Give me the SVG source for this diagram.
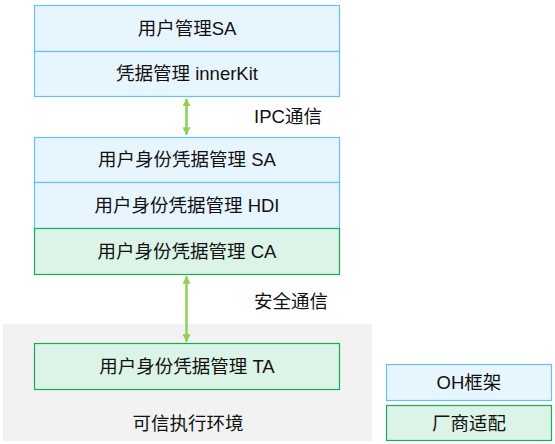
<svg xmlns="http://www.w3.org/2000/svg" width="555" height="444" viewBox="0 0 555 444">
<style>
text{font-family:"Liberation Sans","Noto Sans CJK SC",sans-serif;font-size:18.5px;fill:#111;text-anchor:middle}
.oh{fill:#e7f5fe;stroke:#66bfff;stroke-width:1.2}
.vd{fill:#dcf3e8;stroke:#1aaa55;stroke-width:1.2}
.ar{stroke:#92d050;stroke-width:2.5;fill:none}
</style>
<defs>
<marker id="ah" viewBox="0 0 10 10" refX="9" refY="5" markerWidth="3.2" markerHeight="3.2" orient="auto-start-reverse" markerUnits="strokeWidth">
<path d="M0,0 L10,5 L0,10 z" fill="#92d050"/>
</marker>
</defs>
<rect id="tee" x="3" y="324" width="369" height="117" fill="#f2f2f2"/>
<g id="user-sa">
<rect class="oh" x="34.5" y="5.5" width="305" height="46"/>
<text x="187" y="34.5">用户管理SA</text>
</g>
<g id="innerkit">
<rect class="oh" x="34.5" y="51.5" width="305" height="45"/>
<text x="187" y="80">凭据管理 innerKit</text>
</g>
<g id="cred-sa">
<rect class="oh" x="34.5" y="137.5" width="305" height="45"/>
<text x="187" y="166">用户身份凭据管理 SA</text>
</g>
<g id="cred-hdi">
<rect class="oh" x="34.5" y="182.5" width="305" height="46"/>
<text x="187" y="211.5">用户身份凭据管理 HDI</text>
</g>
<g id="cred-ca">
<rect class="vd" x="34.5" y="228.5" width="305" height="46"/>
<text x="187" y="257.5">用户身份凭据管理 CA</text>
</g>
<g id="cred-ta">
<rect class="vd" x="34.5" y="343.5" width="305" height="46"/>
<text x="187" y="372.5">用户身份凭据管理 TA</text>
</g>
<text x="188" y="430">可信执行环境</text>
<g id="legend-oh">
<rect class="oh" x="386.5" y="364.5" width="165" height="36"/>
<text x="469" y="389">OH框架</text>
</g>
<g id="legend-vendor">
<rect class="vd" x="386.5" y="405.5" width="165" height="35"/>
<text x="469" y="429.5">厂商适配</text>
</g>
<g id="connectors">
<line class="ar" x1="186.5" y1="99" x2="186.5" y2="134.5" marker-start="url(#ah)" marker-end="url(#ah)"/>
<text x="288" y="122.5">IPC通信</text>
<line class="ar" x1="186.5" y1="276.5" x2="186.5" y2="341.5" marker-start="url(#ah)" marker-end="url(#ah)"/>
<text x="291" y="308">安全通信</text>
</g>
</svg>
